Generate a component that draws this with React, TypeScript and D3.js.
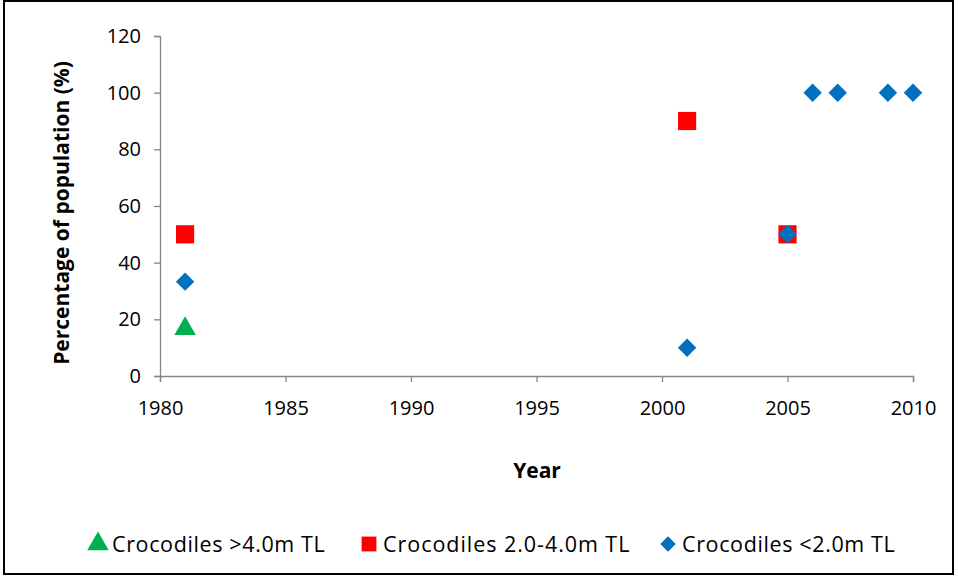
import React, { useEffect, useRef } from 'react';
import * as d3 from 'd3';

const bigYears = [1981];
const bigValues = [16.7];
const midYears = [1981, 2001, 2005];
const midValues = [50, 90, 50];
const smallYears = [1981, 2001, 2005, 2006, 2007, 2009, 2010];
const smallValues = [33.3, 10, 50, 100, 100, 100, 100];
const xTicks = [1980, 1985, 1990, 1995, 2000, 2005, 2010];
const yTicks = [0, 20, 40, 60, 80, 100, 120];

const App: React.FC = () => {
    const svgRef = useRef<SVGSVGElement>(null);

    useEffect(() => {
        if (!svgRef.current) return;
        const svg = d3.select(svgRef.current);
        svg.selectAll('*').remove();
        const W = 958, H = 577;
        const font = '"Open Sans", "Liberation Sans", sans-serif';
        svg.attr('width', W).attr('height', H).style('font-family', font);

        svg.append('rect').attr('x', 4).attr('y', 1).attr('width', W - 9).attr('height', H - 4)
            .attr('fill', '#fff').attr('stroke', '#000').attr('stroke-width', 2);

        const x = d3.scaleLinear().domain([1980, 2010]).range([160, 913]);
        const y = d3.scaleLinear().domain([0, 120]).range([376, 36]);

        // Axes
        const xa = svg.append('g').attr('transform', 'translate(0,376)')
            .call(d3.axisBottom(x).tickValues(xTicks).tickFormat(d3.format('d')).tickSize(6));
        xa.selectAll('text').attr('font-size', 20).attr('dy', '1.5em').attr('fill', '#000').style('font-family', font);
        const ya = svg.append('g').attr('transform', 'translate(160,0)')
            .call(d3.axisLeft(y).tickValues(yTicks).tickSize(6));
        ya.selectAll('text').attr('font-size', 20).attr('dx', '-0.5em').attr('fill', '#000').style('font-family', font);
        svg.selectAll('.domain, .tick line').attr('stroke', '#868686').attr('stroke-width', 1.3);

        svg.append('text').attr('x', 537).attr('y', 478).attr('text-anchor', 'middle')
            .attr('font-size', 21).attr('font-weight', 'bold').text('Year');
        svg.append('text').attr('transform', `translate(69,213) rotate(-90)`).attr('text-anchor', 'middle')
            .attr('font-size', 21).attr('font-weight', 'bold').text('Percentage of population (%)');

        const green = '#00b050', red = '#ff0000', blue = '#0070c0';
        const tri = d3.symbol().type(d3.symbolTriangle).size(200);
        const sq = d3.symbol().type(d3.symbolSquare).size(330);
        const dia = d3.symbol().type(d3.symbolSquare).size(170);

        svg.append('g').selectAll('path').data(midYears.map((yr, i) => [yr, midValues[i]]))
            .enter().append('path').attr('d', sq)
            .attr('transform', d => `translate(${x(d[0])},${y(d[1])})`).attr('fill', red);
        svg.append('g').selectAll('path').data(bigYears.map((yr, i) => [yr, bigValues[i]]))
            .enter().append('path').attr('d', tri)
            .attr('transform', d => `translate(${x(d[0])},${y(d[1])})`).attr('fill', green);
        svg.append('g').selectAll('path').data(smallYears.map((yr, i) => [yr, smallValues[i]]))
            .enter().append('path').attr('d', dia)
            .attr('transform', d => `translate(${x(d[0])},${y(d[1])}) rotate(45)`).attr('fill', blue);

        // Legend
        const legend = [
            { label: 'Crocodiles >4.0m TL', sym: tri, color: green, x: 98, rot: 0 },
            { label: 'Crocodiles 2.0-4.0m TL', sym: d3.symbol().type(d3.symbolSquare).size(220), color: red, x: 369, rot: 0 },
            { label: 'Crocodiles <2.0m TL', sym: d3.symbol().type(d3.symbolSquare).size(120), color: blue, x: 668, rot: 45 },
        ];
        legend.forEach(l => {
            svg.append('path').attr('d', l.sym).attr('fill', l.color)
                .attr('transform', `translate(${l.x},544) rotate(${l.rot})`);
            svg.append('text').attr('x', l.x + 14).attr('y', 552).attr('font-size', 21.5)
                .attr('textLength', l.label.length * 11.2).text(l.label);
        });
    }, []);

    return <svg ref={svgRef} style={{ display: 'block', position: 'absolute', left: 0, top: 0 }}></svg>;
};

export default App;
